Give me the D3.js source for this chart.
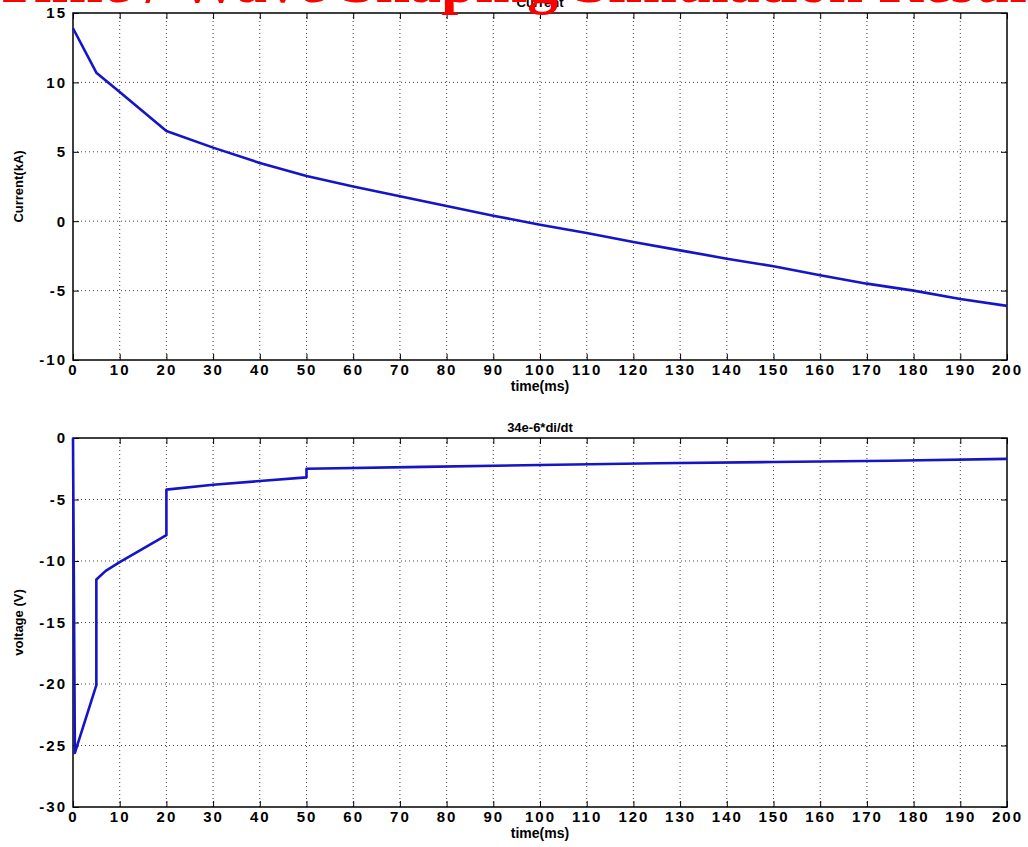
<!DOCTYPE html>
<html>
<head>
<meta charset="utf-8">
<script src="https://cdn.jsdelivr.net/npm/d3@7"></script>
<style>
  body { margin: 0; background: #fff; }
  svg { display: block; }
  .tick text { font-family: "Liberation Sans", Arial, sans-serif; font-weight: bold; font-size: 15px; letter-spacing: 2px; }
</style>
</head>
<body>
<svg width="1028" height="847"></svg>
<script>
// ---- data ----
var xTicks = [0, 10, 20, 30, 40, 50, 60, 70, 80, 90, 100, 110, 120, 130, 140, 150, 160, 170, 180, 190, 200];
var currentTicks = [15, 10, 5, 0, -5, -10];
var voltTicks = [0, -5, -10, -15, -20, -25, -30];

var currentT  = [0, 5, 10, 15, 20, 30, 40, 50, 60, 70, 80, 90, 100, 110, 120, 130, 140, 150, 160, 170, 180, 190, 200];
var currentKA = [13.9, 10.7, 9.3, 7.9, 6.5, 5.3, 4.2, 3.25, 2.5, 1.8, 1.1, 0.4, -0.25, -0.85, -1.5, -2.1, -2.7, -3.25, -3.9, -4.5, -5.0, -5.6, -6.1];

var voltT = [0, 0.4, 5, 5, 7, 10, 15, 20, 20, 30, 40, 50, 50, 75, 100, 125, 150, 175, 200];
var voltV = [0, -25.6, -20.1, -11.5, -10.8, -10.1, -9.0, -7.9, -4.2, -3.8, -3.5, -3.2, -2.5, -2.35, -2.2, -2.05, -1.95, -1.85, -1.7];

var svg = d3.select("svg");
var lineColor = "#1515c8";

var x = d3.scaleLinear().domain([0, 200]).range([73, 1007]);

function panel(top, bottom, yDomain, yTicks, tT, vals, title, ylabel) {
    var y = d3.scaleLinear().domain(yDomain).range([bottom, top]);
    var g = svg.append("g");

    // dotted grid
    g.append("g").selectAll("line")
        .data(xTicks.slice(1, -1))
        .join("line")
          .attr("x1", d => x(d)).attr("x2", d => x(d))
          .attr("y1", top).attr("y2", bottom)
          .attr("stroke", "#444").attr("stroke-dasharray", "1,3");
    g.append("g").selectAll("line")
        .data(yTicks.slice(1, -1))
        .join("line")
          .attr("x1", x(0)).attr("x2", x(200))
          .attr("y1", d => y(d)).attr("y2", d => y(d))
          .attr("stroke", "#444").attr("stroke-dasharray", "1,3");

    // axes, ticks inward on all sides (plain hyphen minus like the original)
    var fmt = d => String(d);
    g.append("g").attr("transform", "translate(0," + bottom + ")")
        .call(d3.axisBottom(x).tickValues(xTicks).tickFormat(fmt).tickSizeInner(-6).tickSizeOuter(0).tickPadding(4));
    g.append("g").attr("transform", "translate(0," + top + ")")
        .call(d3.axisTop(x).tickValues(xTicks).tickSizeInner(-6).tickSizeOuter(0).tickFormat(""));
    g.append("g").attr("transform", "translate(" + x(0) + ",0)")
        .call(d3.axisLeft(y).tickValues(yTicks).tickFormat(fmt).tickSizeInner(-6).tickSizeOuter(0).tickPadding(6));
    g.append("g").attr("transform", "translate(" + x(200) + ",0)")
        .call(d3.axisRight(y).tickValues(yTicks).tickSizeInner(-6).tickSizeOuter(0).tickFormat(""));
    g.selectAll(".domain").remove();
    g.selectAll(".tick line").attr("stroke", "#000");
    g.selectAll(".tick text").attr("fill", "#000");

    g.append("rect")
        .attr("x", x(0)).attr("y", top)
        .attr("width", x(200) - x(0)).attr("height", bottom - top)
        .attr("fill", "none").attr("stroke", "#000").attr("stroke-width", 1.5);

    var line = d3.line().x((d, i) => x(tT[i])).y(d => y(d));
    g.append("path")
        .datum(vals)
        .attr("d", line)
        .attr("fill", "none")
        .attr("stroke", lineColor)
        .attr("stroke-width", 2.6)
        .attr("stroke-linejoin", "round");

    g.append("text")
        .attr("x", (x(0) + x(200)) / 2).attr("y", bottom + 31)
        .attr("text-anchor", "middle")
        .attr("font-family", "Liberation Sans, Arial, sans-serif")
        .attr("font-weight", "bold").attr("font-size", 14)
        .text("time(ms)");

    g.append("text")
        .attr("x", (x(0) + x(200)) / 2).attr("y", top - 6)
        .attr("text-anchor", "middle")
        .attr("font-family", "Liberation Sans, Arial, sans-serif")
        .attr("font-weight", "bold").attr("font-size", 13)
        .text(title);

    g.append("text")
        .attr("transform", "translate(23," + (top + bottom) / 2 + ") rotate(-90)")
        .attr("text-anchor", "middle")
        .attr("font-family", "Liberation Sans, Arial, sans-serif")
        .attr("font-weight", "bold").attr("font-size", 13)
        .text(ylabel);
}

panel(13, 360, [-10, 15], currentTicks, currentT, currentKA, "Current", "Current(kA)");
panel(438, 807, [-30, 0], voltTicks, voltT, voltV, "34e-6*di/dt", "voltage (V)");

// big red slide title, mostly cut off at the top edge
var prefix = "Time / Wave ";
var probe = svg.append("text")
    .attr("font-family", "Liberation Serif, Times New Roman, serif")
    .attr("font-weight", "bold").attr("font-size", 62)
    .attr("xml:space", "preserve")
    .text(prefix);
var prefixW = probe.node().getComputedTextLength();
probe.remove();

svg.append("text")
    .attr("x", 341 - prefixW).attr("y", 2)
    .attr("font-family", "Liberation Serif, Times New Roman, serif")
    .attr("font-weight", "bold").attr("font-size", 62)
    .attr("fill", "#ff0000")
    .text("Time / Wave Shaping Simulation Result");
</script>
</body>
</html>
